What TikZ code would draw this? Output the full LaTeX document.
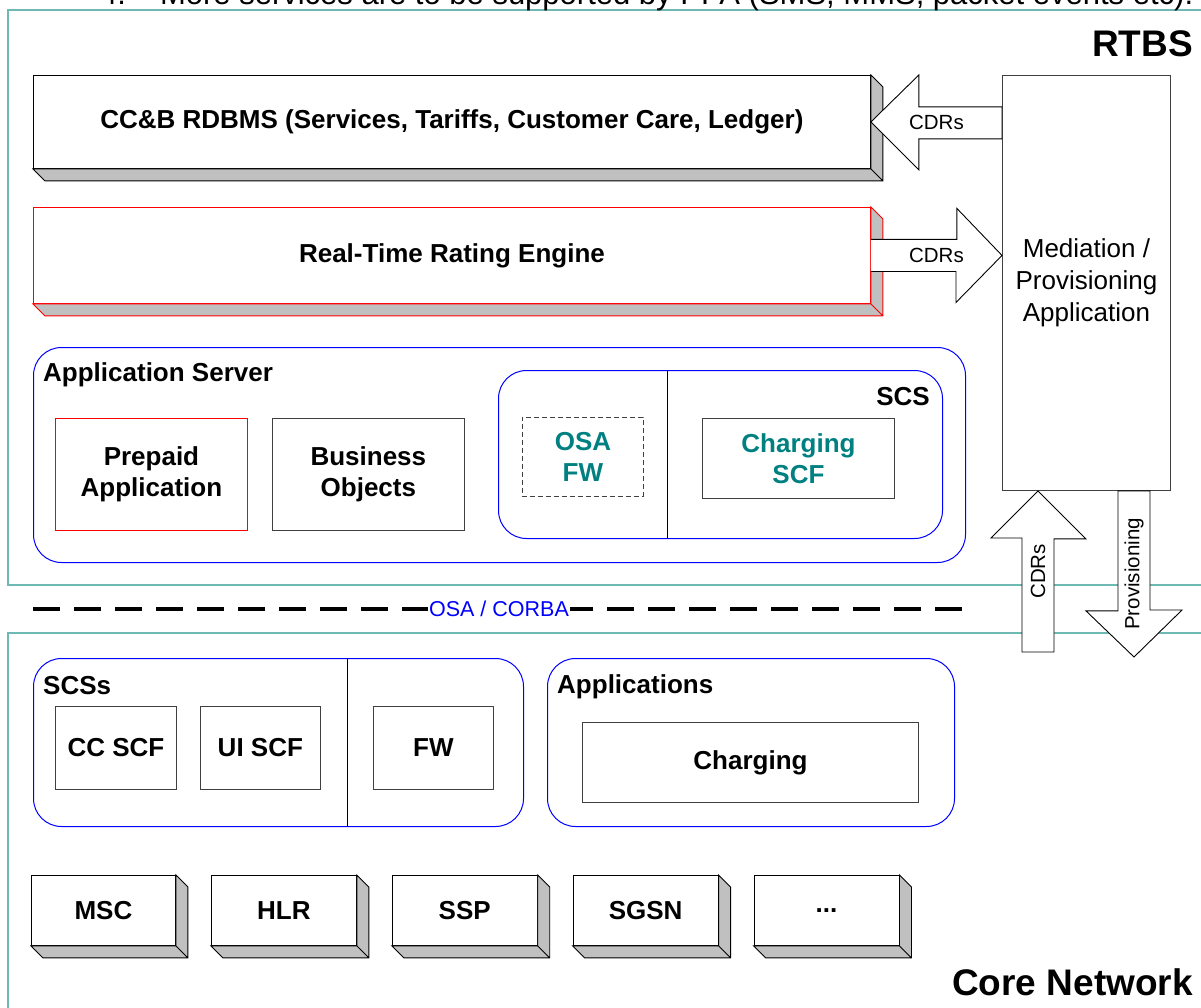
\documentclass[tikz,border=0pt]{standalone}
\usepackage{fontspec}
\setmainfont{Liberation Sans}
\usetikzlibrary{positioning,calc}

\definecolor{frameteal}{RGB}{110,185,180}
\definecolor{slabgray}{RGB}{192,192,192}
\definecolor{scfteal}{RGB}{0,128,128}
\newcommand\boxfont{\fontsize{26}{31}\selectfont\bfseries}

\begin{document}
\begin{tikzpicture}[x=1pt,y=-1pt,line join=miter,
    box/.style={draw=black!75,line width=0.9pt,fill=white,inner sep=0pt,
                anchor=north west,align=center,font=\boxfont},
    slab/.style={box,draw=black},
    group/.style={draw=blue,line width=1pt,rounded corners=28pt,inner sep=0pt,
                  anchor=north west},
    frame/.style={draw=frameteal,line width=2pt},
    title/.style={font=\boxfont,inner sep=0pt},
    big/.style={font=\fontsize{37}{42}\selectfont\bfseries,inner sep=0pt},
    tag/.style={font=\fontsize{20.5}{24}\selectfont,inner sep=0pt},
    fat/.style={draw=black,line width=0.9pt,fill=white}]

  \useasboundingbox (0,0) rectangle (1201,1008);
  \clip (0,0) rectangle (1201,1008);

  % the two domains
  \draw[frame] (8,10) rectangle (1230,585);
  \draw[frame] (8,633) rectangle (1230,1040);
  \node[anchor=base west,font=\fontsize{31}{36}\selectfont,inner sep=0pt] (note) at (100,5)
    {4.\hspace{34pt}More services are to be supported by PPA (SMS, MMS, packet events etc).};
  \node[big,anchor=base east] (rtbs) at (1193,57) {RTBS};
  \node[big,anchor=base east] (core) at (1193,995) {Core Network};

  % RTBS side
  \node[slab,minimum width=837pt,minimum height=93pt] (rdbms) at (33,75)
    {\raisebox{-4pt}{CC\&B RDBMS (Services, Tariffs, Customer Care, Ledger)}};
  \node[slab,draw=red,minimum width=837pt,minimum height=96pt] (rating) at (33,207)
    {Real-Time Rating Engine};
  \node[box,minimum width=168pt,minimum height=415pt,
        font=\fontsize{26}{32}\selectfont] (med) at (1002,75)
    {Mediation /\\Provisioning\\Application};

  \node[group,minimum width=932pt,minimum height=215pt] (appsrv) at (33,347) {};
  \node[title,anchor=base west] (appsrvtitle) at (43,381) {Application Server};
  \node[box,draw=red,minimum width=192pt,minimum height=112pt] (prepaid) at (55,418)
    {Prepaid\\Application};
  \node[box,minimum width=192pt,minimum height=112pt,right=24pt of prepaid] (busobj)
    {Business\\Objects};

  \node[group,minimum width=444pt,minimum height=168pt] (scs) at (498,370) {};
  \draw[line width=1pt] ([xshift=169pt]scs.north west) -- ([xshift=169pt]scs.south west);
  \node[title,anchor=base east] (scstitle) at (930,405) {SCS};
  \node[box,dash pattern=on 5pt off 3pt,text=scfteal,minimum width=121pt,minimum height=79pt]
    (osafw) at (522,417) {OSA\\FW};
  \node[box,text=scfteal,minimum width=192pt,minimum height=80pt] (chscf) at (702,418)
    {Charging\\SCF};

  % OSA / CORBA bus
  \coordinate (busL) at (33,609);
  \coordinate (busR) at (965,609);
  \draw[line width=3.5pt,dash pattern=on 27pt off 14pt] (busL) -- (busR)
    node[midway,fill=white,text=blue,tag,font=\fontsize{21.5}{24}\selectfont,inner sep=1pt] (osa)
    {OSA / CORBA};

  % core network side
  \node[group,minimum width=490pt,minimum height=168pt] (scss) at (33,658) {};
  \draw[line width=1pt] ([xshift=314pt]scss.north west) -- ([xshift=314pt]scss.south west);
  \node[title,anchor=base west] (scsstitle) at (43,694) {SCSs};
  \node[box,minimum width=121pt,minimum height=83pt] (ccscf) at (55,706) {CC SCF};
  \node[box,minimum width=120pt,minimum height=83pt,right=23pt of ccscf] (uiscf) {UI SCF};
  \node[box,minimum width=120pt,minimum height=83pt] (fw) at (373,706) {FW};

  \node[group,minimum width=407pt,minimum height=168pt] (apps) at (547,658) {};
  \node[title,anchor=base west] (appstitle) at (557,693) {Applications};
  \node[box,minimum width=336pt,minimum height=80pt] (charging) at (582,722) {Charging};

  \node[slab,minimum width=144pt,minimum height=70pt] (msc) at (31,875) {MSC};
  \node[slab,minimum width=145pt,minimum height=70pt,right=35pt of msc] (hlr) {HLR};
  \node[slab,minimum width=145pt,minimum height=70pt,right=35pt of hlr] (ssp) {SSP};
  \node[slab,minimum width=145pt,minimum height=70pt,right=35pt of ssp] (sgsn) {SGSN};
  \node[slab,minimum width=145pt,minimum height=70pt,right=35pt of sgsn] (more) {...};

  % 3d faces
  \foreach \s in {rdbms,msc,hlr,ssp,sgsn,more}
    \draw[fill=slabgray,line width=0.9pt] (\s.north east) -- ++(12,12)
      -- ([shift={(12,12)}]\s.south east) -- ([shift={(12,12)}]\s.south west)
      -- (\s.south west) -- (\s.south east) -- cycle
      (\s.south east) -- ++(12,12);
  \draw[fill=slabgray,draw=red,line width=0.9pt] (rating.north east) -- ++(12,12)
    -- ([shift={(12,12)}]rating.south east) -- ([shift={(12,12)}]rating.south west)
    -- (rating.south west) -- (rating.south east) -- cycle
    (rating.south east) -- ++(12,12);

  % block arrows
  \draw[fat] (rdbms.east) -- ++(48,-47) -- ++(0,32) coordinate (a1)
    -- (a1 -| med.west) -- ++(0,32) coordinate (a2) -- (a2 -| a1) -- ++(0,31) -- cycle;
  \node[tag] (cdrsback) at ($(rdbms.east)!0.5!(rdbms.east -| med.west)$) {CDRs};

  \path[fat] ([yshift=16pt]rating.east) -- ++(86,0) -- ++(0,-31)
    -- (rating.east -| med.west) -- ++(-46,47) -- ++(0,-31) -- ([yshift=-16pt]rating.east);
  \node[tag] (cdrsfwd) at ($(rating.east)!0.5!(rating.east -| med.west)$) {CDRs};

  \coordinate (cdrsfoot) at (1038,652);
  \draw[fat] ([xshift=-16pt]cdrsfoot) -- ++(0,-114) -- ++(-31,0) -- (cdrsfoot |- med.south)
    -- ++(48,48) -- ++(-32,0) -- ([xshift=16pt]cdrsfoot) -- cycle;
  \node[tag,rotate=90] (cdrsup) at ($(cdrsfoot)!0.5!(cdrsfoot |- med.south)$) {CDRs};

  \coordinate (provtip) at (1134,657);
  \coordinate (provtop) at (med.south -| provtip);
  \draw[fat] ([xshift=-16pt]provtop) -- ++(0,120) -- ++(-32,0) -- (provtip)
    -- ++(48,-47) -- ++(-32,0) -- ([xshift=16pt]provtop) -- cycle;
  \node[tag,rotate=90] (provdown) at ($(provtop)!0.5!(provtip)$) {Provisioning};

\end{tikzpicture}
\end{document}
